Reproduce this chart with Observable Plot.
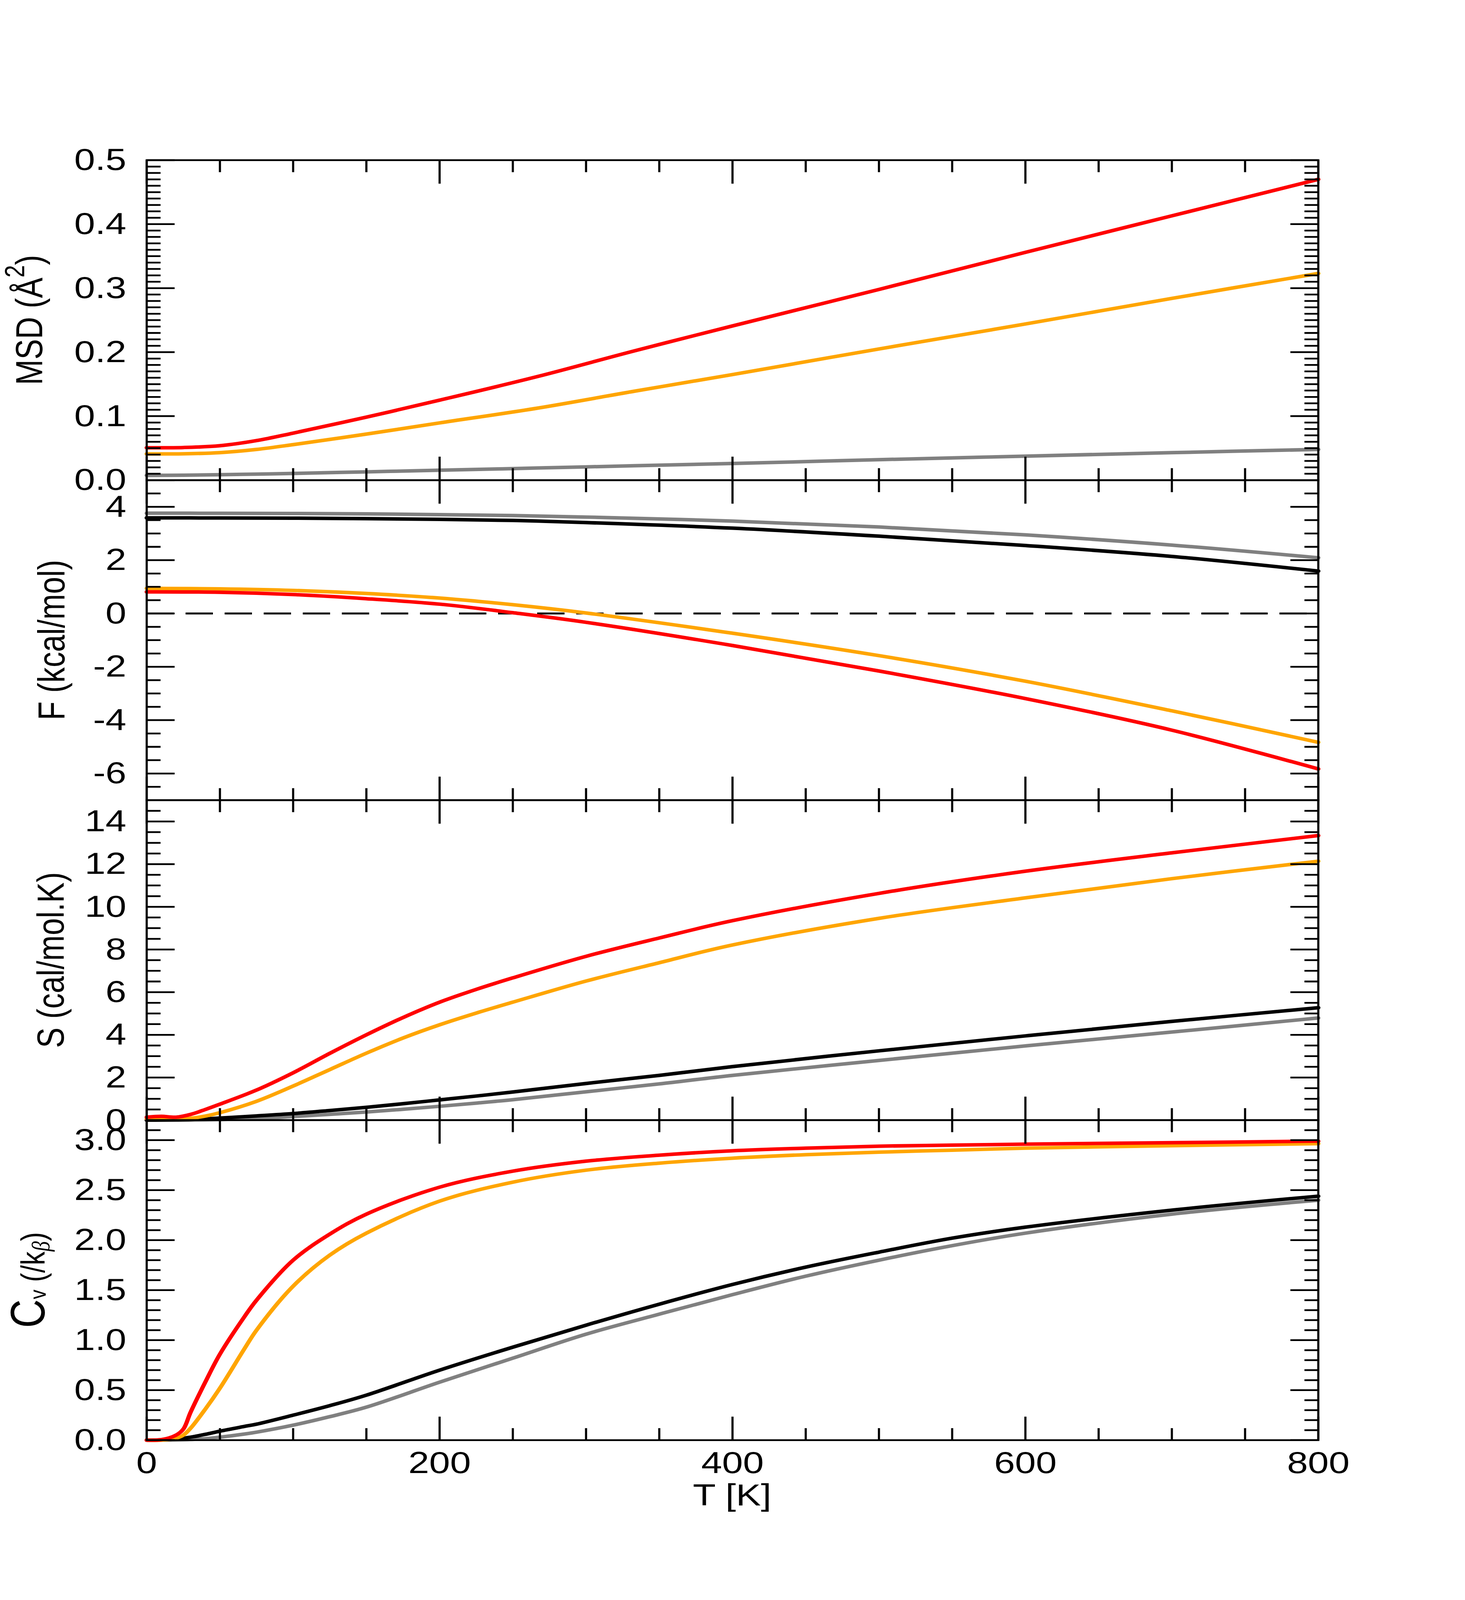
<!DOCTYPE html>
<html>
<head>
<meta charset="utf-8">
<script src="https://cdn.jsdelivr.net/npm/d3@7"></script>
<script src="https://cdn.jsdelivr.net/npm/@observablehq/plot@0.6"></script>
<style>
html, body { margin: 0; padding: 0; background: #fff; overflow: hidden; }
#chart { width: 3750px; height: 4096px; background: #fff; }
#chart > svg { display: block; }
</style>
</head>
<body>
<div id="chart"></div>
<script>
const FONT = "Liberation Sans, Arial, Helvetica, sans-serif";

// x axis (temperature) ticks
const T_major = [0, 200, 400, 600, 800];
const T_minor = [50, 100, 150, 250, 300, 350, 450, 500, 550, 650, 700, 750];

// Panel 1: MSD (Å^2)
const T_msd = [0, 25, 50, 75, 100, 150, 200, 267, 333, 400, 500, 600, 700, 800];
const msd_red    = [0.0507, 0.0510, 0.0538, 0.0618, 0.0735, 0.0985, 0.125, 0.162, 0.202, 0.241, 0.298, 0.356, 0.413, 0.470];
const msd_orange = [0.041, 0.0412, 0.043, 0.048, 0.0555, 0.072, 0.0895, 0.1126, 0.139, 0.165, 0.205, 0.244, 0.284, 0.323];
const msd_gray   = [0.0075, 0.0078, 0.0085, 0.0095, 0.0105, 0.013, 0.0155, 0.019, 0.0225, 0.026, 0.032, 0.0375, 0.043, 0.048];
const msd_major = [0, 0.1, 0.2, 0.3, 0.4, 0.5];
const msd_minor = d3.range(1, 50).filter(i => i % 10 !== 0).map(i => i / 100);

// Panel 2: F (kcal/mol)
const T_F = [0, 50, 100, 150, 200, 250, 300, 400, 500, 600, 700, 800];
const F_gray   = [3.76, 3.759, 3.751, 3.736, 3.708, 3.672, 3.616, 3.465, 3.244, 2.947, 2.565, 2.09];
const F_black  = [3.585, 3.583, 3.575, 3.558, 3.53, 3.49, 3.41, 3.20, 2.90, 2.55, 2.14, 1.59];
const F_orange = [0.943, 0.925, 0.865, 0.75, 0.58, 0.33, 0.02, -0.74, -1.58, -2.54, -3.65, -4.83];
const F_red    = [0.81, 0.795, 0.71, 0.555, 0.35, 0.03, -0.33, -1.2, -2.156, -3.19, -4.375, -5.83];
const F_major = [-6, -4, -2, 0, 2, 4];
const F_minor = [-6.5, -5.5, -5, -4.5, -3.5, -3, -2.5, -1.5, -1, -0.5, 0.5, 1, 1.5, 2.5, 3, 3.5, 4.5];

// Panel 3: S (cal/mol.K)
const T_S = [0, 10, 20, 30, 40, 50, 75, 100, 125, 150, 175, 200, 225, 250, 300, 350, 400, 500, 600, 700, 800];
const S_red    = [0.14, 0.18, 0.14, 0.27, 0.50, 0.75, 1.41, 2.22, 3.13, 4.00, 4.81, 5.53, 6.13, 6.67, 7.68, 8.54, 9.35, 10.63, 11.67, 12.53, 13.34];
const S_orange = [0.06, 0.06, 0.06, 0.09, 0.19, 0.35, 0.885, 1.6, 2.37, 3.14, 3.85, 4.47, 5.02, 5.53, 6.52, 7.38, 8.21, 9.46, 10.42, 11.32, 12.14];
const S_black  = [0, 0.005, 0.015, 0.03, 0.06, 0.10, 0.20, 0.31, 0.45, 0.60, 0.77, 0.95, 1.13, 1.32, 1.72, 2.10, 2.51, 3.25, 3.95, 4.63, 5.27];
const S_gray   = [0, 0, 0, 0.005, 0.015, 0.03, 0.08, 0.17, 0.27, 0.38, 0.51, 0.65, 0.80, 0.96, 1.33, 1.70, 2.10, 2.80, 3.48, 4.13, 4.79];
const S_major = [0, 2, 4, 6, 8, 10, 12, 14];
const S_minor = [0.5, 1, 1.5, 2.5, 3, 3.5, 4.5, 5, 5.5, 6.5, 7, 7.5, 8.5, 9, 9.5, 10.5, 11, 11.5, 12.5, 13, 13.5, 14.5];

// Panel 4: Cv (/k_beta)
const T_C = [0, 10, 20, 25, 30, 40, 50, 67, 75, 100, 125, 150, 200, 250, 300, 350, 400, 450, 500, 550, 600, 700, 800];
const C_red    = [0, 0.005, 0.05, 0.11, 0.28, 0.58, 0.86, 1.24, 1.40, 1.80, 2.06, 2.26, 2.53, 2.69, 2.79, 2.85, 2.894, 2.92, 2.94, 2.95, 2.96, 2.975, 2.99];
const C_orange = [0, 0, 0.02, 0.05, 0.12, 0.31, 0.52, 0.92, 1.10, 1.54, 1.85, 2.07, 2.39, 2.58, 2.70, 2.77, 2.82, 2.855, 2.88, 2.90, 2.92, 2.945, 2.965];
const C_black  = [0, 0.003, 0.012, 0.02, 0.03, 0.058, 0.09, 0.138, 0.16, 0.25, 0.345, 0.45, 0.70, 0.93, 1.15, 1.36, 1.557, 1.73, 1.88, 2.02, 2.13, 2.30, 2.44];
const C_gray   = [0, 0, 0.002, 0.004, 0.007, 0.015, 0.03, 0.062, 0.08, 0.15, 0.235, 0.33, 0.58, 0.82, 1.06, 1.26, 1.455, 1.64, 1.80, 1.945, 2.07, 2.26, 2.40];
const C_major = [0, 0.5, 1, 1.5, 2, 2.5, 3];
const C_minor = d3.range(1, 32).filter(i => i % 5 !== 0).map(i => i / 10);

const COLORS = {red: "#ff0000", orange: "#ffa500", gray: "#808080", black: "#000000"};

// The chart is laid out on a 3750x5000 canvas and mapped onto the visible
// 3750x4096 viewport.
const master = d3.select("#chart").append("svg")
  .attr("xmlns", "http://www.w3.org/2000/svg")
  .attr("width", 3750).attr("height", 4096)
  .attr("viewBox", "0 0 3750 5000")
  .attr("preserveAspectRatio", "none")
  .attr("font-family", FONT)
  .style("background", "white");

function buildPanel(cfg) {
  const marks = [];
  if (cfg.zeroLine) {
    marks.push(Plot.ruleY([0], {stroke: "black", strokeWidth: 6, strokeDasharray: "70,30"}));
  }
  for (const s of cfg.series) {
    const rows = cfg.T.map((t, i) => ({T: t, v: s.values[i]}));
    marks.push(Plot.line(rows, {x: "T", y: "v", stroke: COLORS[s.color], strokeWidth: 11, curve: "catmull-rom"}));
  }
  const tk = {stroke: "black", strokeWidth: 5.5, fill: "none", label: null};
  marks.push(
    Plot.axisX(T_major, {anchor: "top", tickSize: -73, ...tk}),
    Plot.axisX(T_minor, {anchor: "top", tickSize: -37, ...tk}),
    Plot.axisX(T_major, {anchor: "bottom", tickSize: -73, ...tk}),
    Plot.axisX(T_minor, {anchor: "bottom", tickSize: -37, ...tk}),
    Plot.axisY(cfg.yMajor, {anchor: "left", tickSize: -72, ...tk}),
    Plot.axisY(cfg.yMinor, {anchor: "left", tickSize: -36, ...tk}),
    Plot.axisY(cfg.yMajor, {anchor: "right", tickSize: -72, ...tk}),
    Plot.axisY(cfg.yMinor, {anchor: "right", tickSize: -36, ...tk}),
    Plot.axisY(cfg.yMajor, {anchor: "left", tickSize: 0, tickPadding: 52, tickFormat: cfg.fmt,
      fontSize: 96, fontFamily: FONT, fill: "black", label: null}),
    Plot.frame({stroke: "black", strokeWidth: 5.5})
  );
  if (cfg.xLabels) {
    marks.push(Plot.axisX(T_major, {anchor: "bottom", tickSize: 0, tickPadding: 34, tickFormat: d => String(d),
      fontSize: 96, fontFamily: FONT, fill: "black", label: null}));
  }
  const svg = Plot.plot({
    width: 3750,
    height: cfg.mTop + 1000 + cfg.mBottom,
    marginLeft: 375, marginRight: 376, marginTop: cfg.mTop, marginBottom: cfg.mBottom,
    x: {domain: [0, 800]},
    y: {domain: cfg.yDomain},
    style: {fontFamily: FONT, color: "black"},
    marks
  });
  const g = master.append("g").attr("transform", `translate(0,${cfg.svgTop})`);
  for (const a of ["class", "fill", "font-size", "text-anchor"]) {
    const v = svg.getAttribute(a);
    if (v != null) g.attr(a, v);
  }
  g.attr("fill", "black").attr("font-family", FONT);
  while (svg.firstChild) g.node().appendChild(svg.firstChild);
  return g;
}

function title(g, x, y, parts) {
  const t = g.append("text")
    .attr("transform", `translate(${x},${y}) rotate(-90)`)
    .attr("text-anchor", "middle")
    .attr("font-family", FONT)
    .attr("fill", "black");
  for (const p of parts) {
    const s = t.append("tspan").attr("font-size", p.size).text(p.text);
    if (p.dy) s.attr("dy", p.dy);
    if (p.italic) s.attr("font-style", "italic");
    if (p.family) s.attr("font-family", p.family);
  }
}

// Panel 1
const p1 = buildPanel({
  T: T_msd, svgTop: 0, mTop: 500, mBottom: 100,
  yDomain: [0, 0.5], yMajor: msd_major, yMinor: msd_minor, fmt: d => d.toFixed(1),
  series: [
    {color: "gray", values: msd_gray},
    {color: "orange", values: msd_orange},
    {color: "red", values: msd_red}
  ]
});
title(p1, 108, 1000, [
  {text: "MSD (Å", size: 96},
  {text: "2", size: 70, dy: -46},
  {text: ")", size: 96, dy: 46}
]);

// Panel 2
const p2 = buildPanel({
  T: T_F, svgTop: 1400, mTop: 100, mBottom: 100, zeroLine: true,
  yDomain: [-7, 5], yMajor: F_major, yMinor: F_minor, fmt: d => String(d),
  series: [
    {color: "gray", values: F_gray},
    {color: "black", values: F_black},
    {color: "orange", values: F_orange},
    {color: "red", values: F_red}
  ]
});
title(p2, 165, 600, [{text: "F (kcal/mol)", size: 96}]);

// Panel 3
const p3 = buildPanel({
  T: T_S, svgTop: 2400, mTop: 100, mBottom: 100,
  yDomain: [0, 15], yMajor: S_major, yMinor: S_minor, fmt: d => String(d),
  series: [
    {color: "gray", values: S_gray},
    {color: "black", values: S_black},
    {color: "orange", values: S_orange},
    {color: "red", values: S_red}
  ]
});
title(p3, 163, 600, [{text: "S (cal/mol.K)", size: 96}]);

// Panel 4
const p4 = buildPanel({
  T: T_C, svgTop: 3400, mTop: 100, mBottom: 500, xLabels: true,
  yDomain: [0, 3.2], yMajor: C_major, yMinor: C_minor, fmt: d => d.toFixed(1),
  series: [
    {color: "gray", values: C_gray},
    {color: "black", values: C_black},
    {color: "orange", values: C_orange},
    {color: "red", values: C_red}
  ]
});
title(p4, 114, 600, [
  {text: "C", size: 124},
  {text: "v", size: 60, dy: 3},
  {text: " (/k", size: 86, dy: -3},
  {text: "β", size: 64, dy: 12, italic: true, family: "Liberation Serif, DejaVu Serif, serif"},
  {text: ")", size: 86, dy: -12}
]);

// x axis title
p4.append("text")
  .attr("x", 1874).attr("y", 1305)
  .attr("text-anchor", "middle")
  .attr("font-family", FONT).attr("font-size", 96).attr("fill", "black")
  .text("T [K]");
</script>
</body>
</html>
